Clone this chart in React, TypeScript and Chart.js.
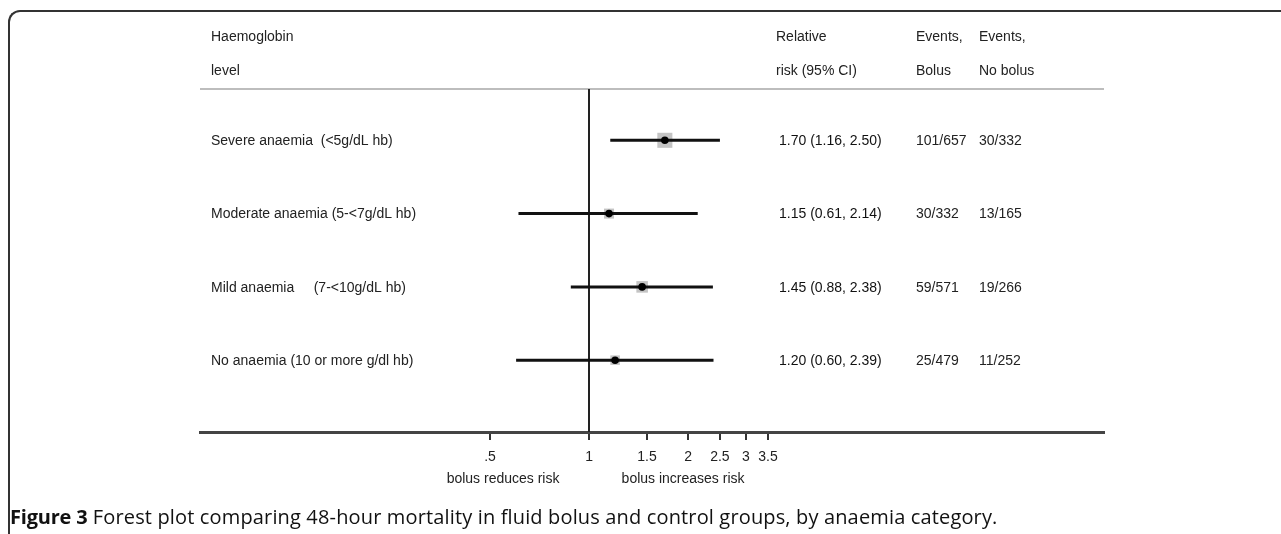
import React, { useEffect, useRef } from "react";
import { Chart, registerables } from "chart.js";

Chart.register(...registerables);

// ---- data ----
const groups = [
  "Severe anaemia  (<5g/dL hb)",
  "Moderate anaemia (5-<7g/dL hb)",
  "Mild anaemia     (7-<10g/dL hb)",
  "No anaemia (10 or more g/dl hb)",
];
const relRisk = [1.7, 1.15, 1.45, 1.2];
const ciLower = [1.16, 0.61, 0.88, 0.6];
const ciUpper = [2.5, 2.14, 2.38, 2.39];
const eventsBolus = ["101/657", "30/332", "59/571", "25/479"];
const eventsNoBolus = ["30/332", "13/165", "19/266", "11/252"];
const weights = [1.5, 1.0, 1.15, 0.95];
const tickValues = [0.5, 1, 1.5, 2, 2.5, 3, 3.5];
const tickLabels = [".5", "1", "1.5", "2", "2.5", "3", "3.5"];
const headerGroup = ["Haemoglobin", "level"];
const headerRR = ["Relative", "risk (95% CI)"];
const headerBolus = ["Events,", "Bolus"];
const headerNoBolus = ["Events,", "No bolus"];
const axisNotes = ["bolus reduces risk", "bolus increases risk"];
const captionBold = "Figure 3";
const captionText =
  " Forest plot comparing 48-hour mortality in fluid bolus and control groups, by anaemia category.";

const FONT = '"Liberation Sans", Arial, sans-serif';
const TEXT = "#222";

const rrText = relRisk.map(
  (r, i) => `${r.toFixed(2)} (${ciLower[i].toFixed(2)}, ${ciUpper[i].toFixed(2)})`
);

const forestPlugin = {
  id: "forestText",
  beforeDatasetsDraw(chart: any) {
    const { ctx, chartArea } = chart;
    const xs = chart.scales.x;
    ctx.save();
    // header rule
    ctx.strokeStyle = "#bdbdbd";
    ctx.lineWidth = 2;
    ctx.beginPath();
    ctx.moveTo(chartArea.left, chartArea.top);
    ctx.lineTo(chartArea.right, chartArea.top);
    ctx.stroke();
    // null line at RR = 1
    const x1 = Math.round(xs.getPixelForValue(1));
    ctx.strokeStyle = "#222";
    ctx.lineWidth = 2;
    ctx.beginPath();
    ctx.moveTo(x1, chartArea.top);
    ctx.lineTo(x1, chartArea.bottom);
    ctx.stroke();
    ctx.restore();
  },
  afterDraw(chart: any) {
    const { ctx } = chart;
    const xs = chart.scales.x;
    const ys = chart.scales.y;
    ctx.save();
    ctx.fillStyle = TEXT;
    ctx.font = `14px ${FONT}`;
    ctx.textBaseline = "middle";
    ctx.textAlign = "left";
    const hy = [37, 71];
    headerGroup.forEach((t, i) => ctx.fillText(t, 211, hy[i]));
    headerRR.forEach((t, i) => ctx.fillText(t, 776, hy[i]));
    headerBolus.forEach((t, i) => ctx.fillText(t, 916, hy[i]));
    headerNoBolus.forEach((t, i) => ctx.fillText(t, 979, hy[i]));
    groups.forEach((g, i) => {
      const y = ys.getPixelForValue(i + 1) + 1;
      ctx.fillStyle = TEXT;
      ctx.fillText(g, 211, y);
      ctx.fillStyle = "#111";
      ctx.fillText(rrText[i], 779, y);
      ctx.fillStyle = TEXT;
      ctx.fillText(eventsBolus[i], 916, y);
      ctx.fillText(eventsNoBolus[i], 979, y);
    });
    const x1 = xs.getPixelForValue(1);
    ctx.textAlign = "center";
    ctx.fillText(axisNotes[0], x1 - 86, 479);
    ctx.fillText(axisNotes[1], x1 + 94, 479);
    ctx.restore();
  },
};

export default function App() {
  const ref = useRef<HTMLCanvasElement | null>(null);
  useEffect(() => {
    if (!ref.current) return;
    const rows = groups.map((_, i) => i + 1);
    const ciSets = rows.map((row, i) => ({
      type: "scatter" as const,
      data: [
        { x: ciLower[i], y: row },
        { x: ciUpper[i], y: row },
      ],
      showLine: true,
      borderColor: "#111",
      borderWidth: 3,
      pointRadius: 0,
      order: 1,
    }));
    const chart = new Chart(ref.current, {
      type: "scatter",
      data: {
        datasets: [
          {
            data: rows.map((row, i) => ({ x: relRisk[i], y: row })),
            pointStyle: "circle",
            pointRadius: 3.8,
            backgroundColor: "#000",
            borderWidth: 0,
            order: 0,
          },
          ...ciSets,
          {
            data: rows.map((row, i) => ({ x: relRisk[i], y: row })),
            pointStyle: "rect",
            pointRadius: weights.map((w) => w * 7.1),
            backgroundColor: "#c4c4c4",
            borderWidth: 0,
            order: 2,
          },
        ] as any,
      },
      options: {
        animation: false,
        responsive: false,
        devicePixelRatio: 1,
        events: [],
        layout: { padding: { left: 200, right: 177, top: 89, bottom: 0 } },
        plugins: { legend: { display: false }, tooltip: { enabled: false } },
        scales: {
          x: {
            type: "logarithmic",
            position: "bottom",
            min: 0.0656,
            max: 36.8,
            bounds: "data",
            afterBuildTicks: (s: any) => {
              s.ticks = tickValues.map((v) => ({ value: v }));
            },
            afterFit: (s: any) => {
              s.height = 102;
            },
            ticks: {
              autoSkip: false,
              maxRotation: 0,
              padding: 9,
              color: TEXT,
              font: { family: FONT, size: 14 },
              callback: (_v: any, i: number) => tickLabels[i],
            },
            grid: {
              drawOnChartArea: false,
              drawTicks: true,
              tickLength: 8,
              tickColor: "#333",
              tickWidth: 2,
              color: "#333",
              lineWidth: 2,
            },
            border: { display: true, color: "#444", width: 3 },
          } as any,
          y: {
            type: "linear",
            reverse: true,
            min: 0.3,
            max: 4.98,
            display: false,
          },
        },
      },
      plugins: [forestPlugin],
    });
    return () => chart.destroy();
  }, []);

  return (
    <div
      style={{
        position: "absolute",
        left: 0,
        top: 0,
        width: 1281,
        height: 534,
        overflow: "hidden",
        background: "#fff",
      }}
    >
      <canvas
        ref={ref}
        width={1281}
        height={534}
        style={{ position: "absolute", left: 0, top: 0, width: 1281, height: 534 }}
      />
      <div
        style={{
          position: "absolute",
          left: 8,
          top: 10,
          width: 1400,
          height: 700,
          boxSizing: "border-box",
          borderTop: "2px solid #333",
          borderLeft: "2px solid #333",
          borderTopLeftRadius: 12,
        }}
      />
      <div
        style={{
          position: "absolute",
          left: 10,
          top: 503,
          fontFamily: '"Open Sans", sans-serif',
          fontSize: 20,
          lineHeight: "28px",
          color: "#111",
          whiteSpace: "nowrap",
        }}
      >
        <b style={{ letterSpacing: "-0.2px" }}>{captionBold}</b>
        <span style={{ letterSpacing: "0.15px" }}>{captionText}</span>
      </div>
    </div>
  );
}
